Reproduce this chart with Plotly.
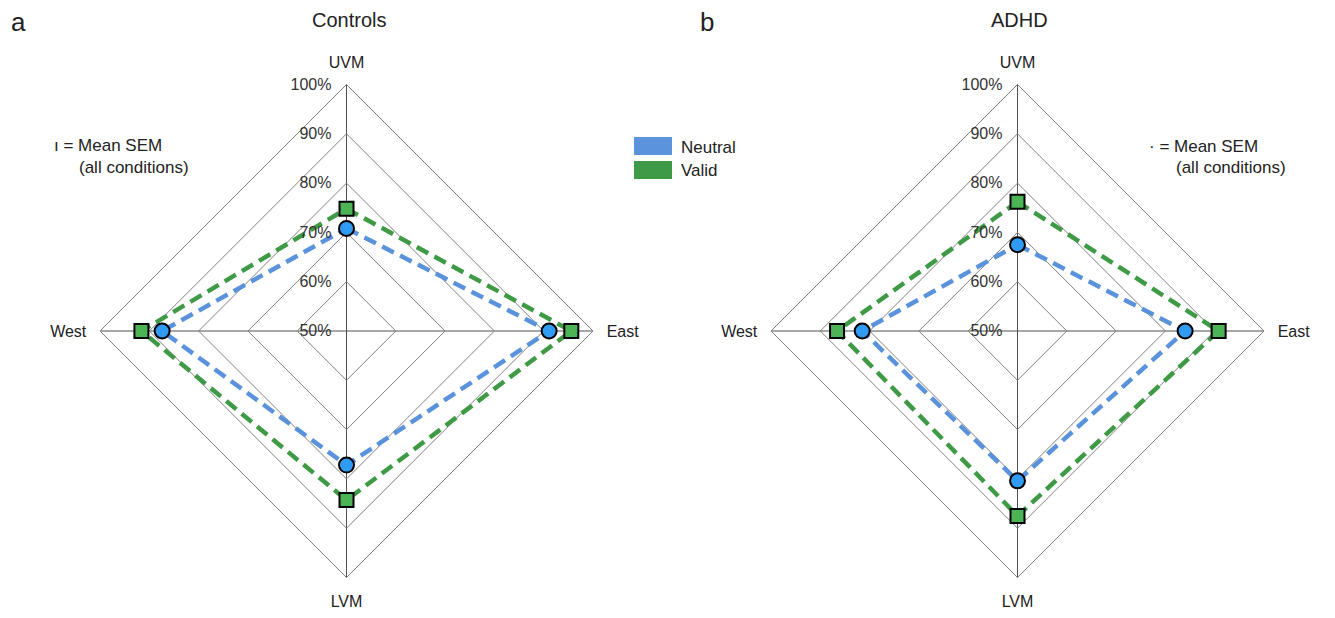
import plotly.graph_objects as go

directions = ["UVM", "East", "LVM", "West"]
controls_neutral = [70.8, 91.1, 77.2, 87.4]
controls_valid = [74.8, 95.6, 84.3, 91.6]
adhd_neutral = [67.5, 84.0, 80.4, 81.5]
adhd_valid = [76.2, 90.8, 87.5, 86.6]
radial_ticks = [50, 60, 70, 80, 90, 100]
radial_labels = ["50%", "60%", "70%", "80%", "90%", "100%"]
legend_names = ["Neutral", "Valid"]

FONT = "Liberation Sans, Arial, sans-serif"
BLUE_LINE = "#5a92dc"
GREEN_LINE = "#3f9a45"
BLUE_FILL = "#2f9bf2"
GREEN_FILL = "#4db455"

OFF = 8  # default page body margin
W, H = 1335 - 2 * OFF, 618 - 2 * OFF


def px(x):
    return (x - OFF) / W


def py(y):
    return 1 - (y - OFF) / H


def closed(v):
    return list(v) + [v[0]]


fig = go.Figure()

panels = [("polar", controls_neutral, controls_valid), ("polar2", adhd_neutral, adhd_valid)]
for sub, neu, val in panels:
    theta = closed(directions)
    fig.add_trace(go.Scatterpolar(
        r=closed(neu), theta=theta, subplot=sub, mode="lines",
        line=dict(color=BLUE_LINE, width=4.5, dash="13px,7px"),
        showlegend=False, hoverinfo="skip"))
    fig.add_trace(go.Scatterpolar(
        r=closed(val), theta=theta, subplot=sub, mode="lines",
        line=dict(color=GREEN_LINE, width=4.5, dash="13px,7px"),
        showlegend=False, hoverinfo="skip"))
    fig.add_trace(go.Scatterpolar(
        r=neu, theta=directions, subplot=sub, mode="markers",
        marker=dict(symbol="circle", size=15, color=BLUE_FILL,
                    line=dict(color="black", width=2)),
        name=legend_names[0], showlegend=False))
    fig.add_trace(go.Scatterpolar(
        r=val, theta=directions, subplot=sub, mode="markers",
        marker=dict(symbol="square", size=14, color=GREEN_FILL,
                    line=dict(color="black", width=2)),
        name=legend_names[1], showlegend=False))


def polar_layout(x0, x1):
    cy = 331
    half = (x1 - x0) / 2
    return dict(
        domain=dict(x=[px(x0), px(x1)], y=[py(cy + half), py(cy - half)]),
        gridshape="linear",
        bgcolor="rgba(0,0,0,0)",
        radialaxis=dict(
            range=[50, 100], tickvals=radial_ticks, ticktext=radial_labels,
            angle=90, side="counterclockwise", tickangle=90,
            showline=False, ticks="outside", ticklen=9, tickcolor="rgba(0,0,0,0)",
            gridcolor="#808080", gridwidth=1,
            tickfont=dict(family=FONT, size=16, color="#333333"),
        ),
        angularaxis=dict(
            categoryarray=directions, categoryorder="array",
            rotation=90, direction="clockwise",
            showline=True, linecolor="#808080", linewidth=1,
            gridcolor="#505050", gridwidth=1,
            ticks="outside", ticklen=10, tickcolor="rgba(0,0,0,0)",
            tickfont=dict(family=FONT, size=16, color="#222222"),
        ),
    )


fig.update_layout(
    width=W, height=H,
    margin=dict(l=0, r=0, t=0, b=0),
    paper_bgcolor="white", plot_bgcolor="white",
    font=dict(family=FONT, color="#222222"),
    polar=polar_layout(100, 593),
    polar2=polar_layout(771, 1264),
    showlegend=False,
)

ann = []
ann.append(dict(x=px(9), y=py(22), text="a", font=dict(size=26)))
ann.append(dict(x=px(698), y=py(22), text="b", font=dict(size=26)))
ann.append(dict(x=px(349), y=py(20), text="Controls", font=dict(size=20), xanchor="center"))
ann.append(dict(x=px(1019), y=py(20), text="ADHD", font=dict(size=20), xanchor="center"))
ann.append(dict(x=px(52), y=py(145), text="ı = Mean SEM", font=dict(size=17), xanchor="left"))
ann.append(dict(x=px(77), y=py(167), text="(all conditions)", font=dict(size=17), xanchor="left"))
ann.append(dict(x=px(1147), y=py(146), text="· = Mean SEM", font=dict(size=17), xanchor="left"))
ann.append(dict(x=px(1174), y=py(168), text="(all conditions)", font=dict(size=17), xanchor="left"))
ann.append(dict(x=px(679), y=py(147), text=legend_names[0], font=dict(size=17), xanchor="left"))
ann.append(dict(x=px(679), y=py(171), text=legend_names[1], font=dict(size=17), xanchor="left"))
for a in ann:
    a.setdefault("xanchor", "left")
    a.update(xref="paper", yref="paper", yanchor="middle", showarrow=False)
    a["font"]["family"] = FONT
    a["font"]["color"] = "#222222"
fig.update_layout(annotations=ann)

fig.update_layout(shapes=[
    dict(type="rect", xref="paper", yref="paper",
         x0=px(634), x1=px(672), y0=py(155), y1=py(137),
         fillcolor="#5b93dc", line=dict(width=0)),
    dict(type="rect", xref="paper", yref="paper",
         x0=px(634), x1=px(672), y0=py(179), y1=py(161),
         fillcolor="#3f9a47", line=dict(width=0)),
])

fig.write_html("out.html")
